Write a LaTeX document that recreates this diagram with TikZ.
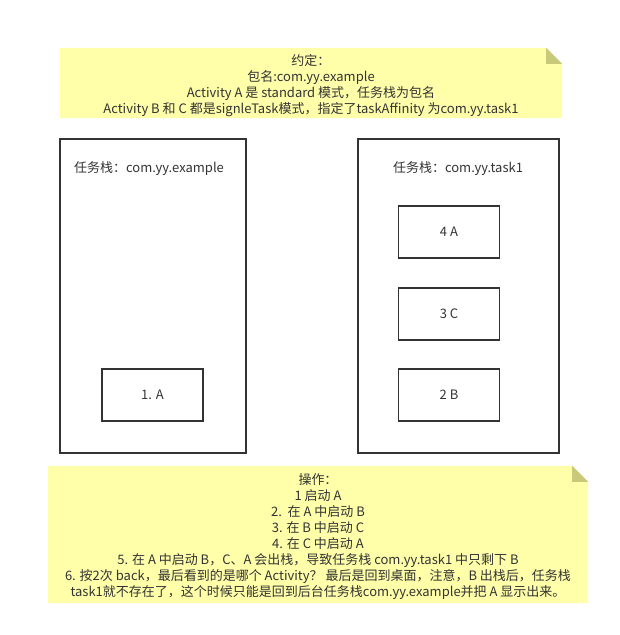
\documentclass[tikz,border=0pt]{standalone}
\usepackage{fontspec}
\setmainfont{Noto Sans CJK SC}
\usetikzlibrary{positioning, backgrounds}
\definecolor{noteyellow}{HTML}{FFFFAA}
\definecolor{notefold}{HTML}{C9C97A}
\definecolor{boxline}{HTML}{333333}
\definecolor{textgrey}{HTML}{333333}

\tikzset{
    stackbox/.style={draw=boxline, line width=1.5pt, minimum width=186pt, minimum height=314pt},
    actbox/.style={draw=boxline, line width=1.5pt, minimum width=101pt, minimum height=52pt, text=textgrey},
    notetext/.style={align=center, inner sep=0pt, text=textgrey, font=\fontsize{13}{16}\selectfont},
    stacktitle/.style={text=textgrey, inner sep=0pt, font=\fontsize{13}{16}\selectfont}
}

\begin{document}
\begin{tikzpicture}[x=1pt, y=-1pt, font=\fontsize{13}{16}\selectfont]
    \useasboundingbox (0,0) rectangle (620,635);
    % notes
    \node[minimum width=502pt, minimum height=70pt, inner sep=0pt] (topnote) at (311,83) {};
    \node[notetext] (toptext) at (311,86) {约定：\\包名:com.yy.example\\Activity A 是 standard 模式，任务栈为包名\\Activity B 和 C 都是signleTask模式，指定了taskAffinity 为com.yy.task1};
    \node[minimum width=540pt, minimum height=137pt, inner sep=0pt] (opnote) at (318,534.5) {};
    \node[notetext] (optext) at (318,536.5) {操作：\\1 启动 A\\2.\ \ 在 A 中启动 B\\3. 在 B 中启动 C\\4. 在 C 中启动 A\\5. 在 A 中启动 B，C、A 会出栈，导致任务栈 com.yy.task1 中只剩下 B\\6. 按2次 back，最后看到的是哪个 Activity？ 最后是回到桌面，注意，B 出栈后，任务栈\\task1就不存在了，这个时候只能是回到后台任务栈com.yy.example并把 A 显示出来。};
    \begin{pgfonlayer}{background}
        \foreach \n in {topnote, opnote} {
            \fill[noteyellow] (\n.south west) -- (\n.north west) -- ([xshift=-16pt]\n.north east)
                -- ([yshift=-16pt]\n.north east) -- (\n.south east) -- cycle;
            \fill[notefold] ([xshift=-16pt]\n.north east) -- ([xshift=-16pt, yshift=-16pt]\n.north east)
                -- ([yshift=-16pt]\n.north east) -- cycle;
        }
    \end{pgfonlayer}
    % task stacks
    \node[stackbox] (examplestack) at (153,296) {};
    \node[stacktitle] (exampletitle) at (149,169) {任务栈：com.yy.example};
    \node[stackbox, minimum width=201pt] (taskstack) at (458.5,296) {};
    \node[stacktitle] (tasktitle) at (458,169) {任务栈：com.yy.task1};
    % activities
    \node[actbox] (actA1) at (152.5,395) {1. A};
    \node[actbox] (actA4) at (449,232) {4 A};
    \node[actbox] (actC3) at (449,314) {3 C};
    \node[actbox] (actB2) at (449,395) {2 B};
\end{tikzpicture}
\end{document}
